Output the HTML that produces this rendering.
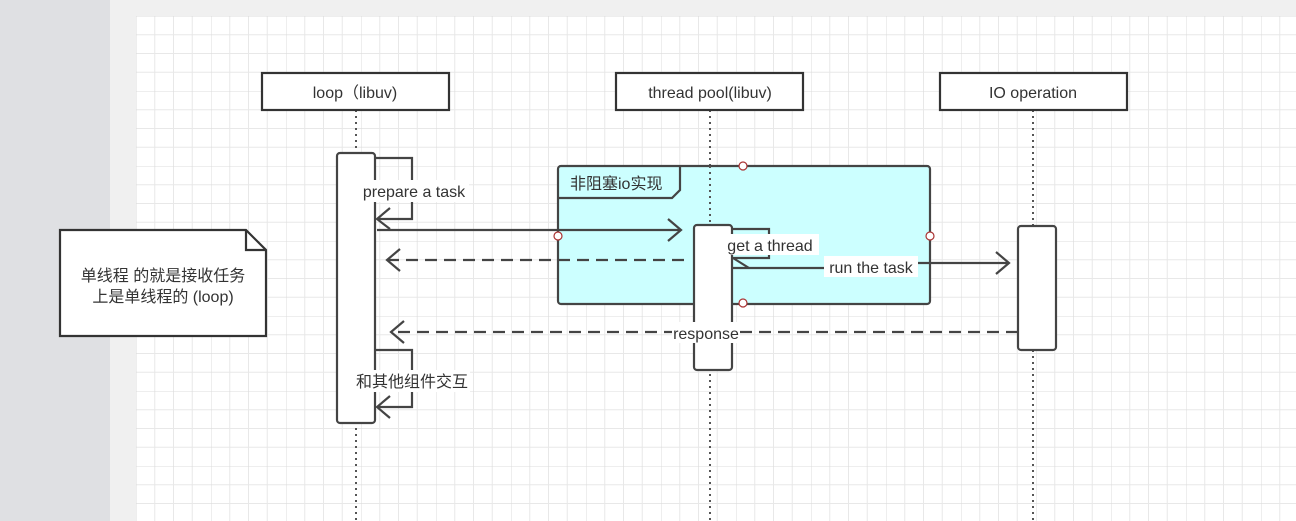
<!DOCTYPE html>
<html><head><meta charset="utf-8"><style>
html,body{margin:0;padding:0;width:1296px;height:521px;overflow:hidden;background:#f0f0f0}
svg{display:block}
text{font-family:"Liberation Sans","Noto Sans CJK SC",sans-serif;font-size:16px;fill:#333}
</style></head><body>
<svg width="1296" height="521" xmlns="http://www.w3.org/2000/svg">
<defs>
<pattern id="g" x="136" y="16" width="75" height="75" patternUnits="userSpaceOnUse">
<path d="M18.75 0V75M37.5 0V75M56.25 0V75M0 18.75H75M0 37.5H75M0 56.25H75" stroke="#e8e8e8" stroke-width="1" fill="none"/>
<path d="M0 0V75M0 0H75" stroke="#dcdcdc" stroke-width="1" fill="none"/>
</pattern>
</defs>
<rect x="0" y="0" width="110" height="521" fill="#dfe0e3"/>
<rect x="136" y="16" width="1160" height="505" fill="#fff"/>
<rect x="136" y="16" width="1160" height="505" fill="url(#g)"/>
<g stroke="#444" stroke-width="2" fill="none">
<path d="M356 110V521M710 110V521M1033 110V521" stroke-dasharray="2 4" stroke="#555"/>
</g>
<rect x="558" y="166" width="372" height="138" rx="3" fill="#ccffff" stroke="#444" stroke-width="2.2"/>
<path d="M558 198H672L680 190V166" fill="none" stroke="#444" stroke-width="2.2"/>
<text x="570" y="189">非阻塞io实现</text>
<path d="M710 166V225" stroke="#555" stroke-width="2" stroke-dasharray="2 4"/>
<g fill="#fff" stroke="#333" stroke-width="2.2">
<rect x="262" y="73" width="187" height="37"/>
<rect x="616" y="73" width="187" height="37"/>
<rect x="940" y="73" width="187" height="37"/>
</g>
<text x="355" y="98" text-anchor="middle">loop（libuv)</text>
<text x="710" y="98" text-anchor="middle">thread pool(libuv)</text>
<text x="1033" y="98" text-anchor="middle">IO operation</text>
<g fill="#fff" stroke="#444" stroke-width="2.2">
<rect x="337" y="153" width="38" height="270" rx="3"/>
<rect x="694" y="225" width="38" height="145" rx="3"/>
<rect x="1018" y="226" width="38" height="124" rx="3"/>
</g>
<g stroke="#444" stroke-width="2.2" fill="none">
<path d="M375 158H412V219H377M390 208L377 219L390 229"/>
<path d="M375 350H412V407H377M390 396L377 407L390 418"/>
<path d="M377 230H680M668 219L681 230L668 241"/>
<path d="M684 260H387" stroke-dasharray="12 7"/>
<path d="M400 249L387 260L400 271"/>
<path d="M732 229H769V258H733M733 258L749 268"/>
<path d="M733 268H830M910 263H1008M996 252L1009 263L996 274"/>
<path d="M1018 332H391" stroke-dasharray="12 7"/>
<path d="M404 321L391 332L404 343"/>
</g>
<rect x="359" y="180" width="110" height="22" fill="#fff"/>
<text x="414" y="197" text-anchor="middle">prepare a task</text>
<rect x="722" y="234" width="97" height="21" fill="#fff"/>
<text x="770" y="251" text-anchor="middle">get a thread</text>
<rect x="824" y="256" width="94" height="21" fill="#fff"/>
<text x="871" y="273" text-anchor="middle">run the task</text>
<rect x="672" y="322" width="68" height="21" fill="#fff"/>
<text x="706" y="339" text-anchor="middle">response</text>
<rect x="354" y="370" width="116" height="22" fill="#fff"/>
<text x="412" y="387" text-anchor="middle">和其他组件交互</text>
<path d="M60 230H246L266 250V336H60Z" fill="#fff" stroke="#333" stroke-width="2.2"/>
<path d="M246 230V250H266" fill="none" stroke="#333" stroke-width="2.2"/>
<text x="163" y="281" text-anchor="middle">单线程 的就是接收任务</text>
<text x="163" y="302" text-anchor="middle">上是单线程的 (loop)</text>
<g fill="#fff" stroke="#a33" stroke-width="1.2">
<circle cx="743" cy="166" r="4"/><circle cx="558" cy="236" r="4"/><circle cx="930" cy="236" r="4"/><circle cx="743" cy="303" r="4"/>
</g>
</svg>
</body></html>
